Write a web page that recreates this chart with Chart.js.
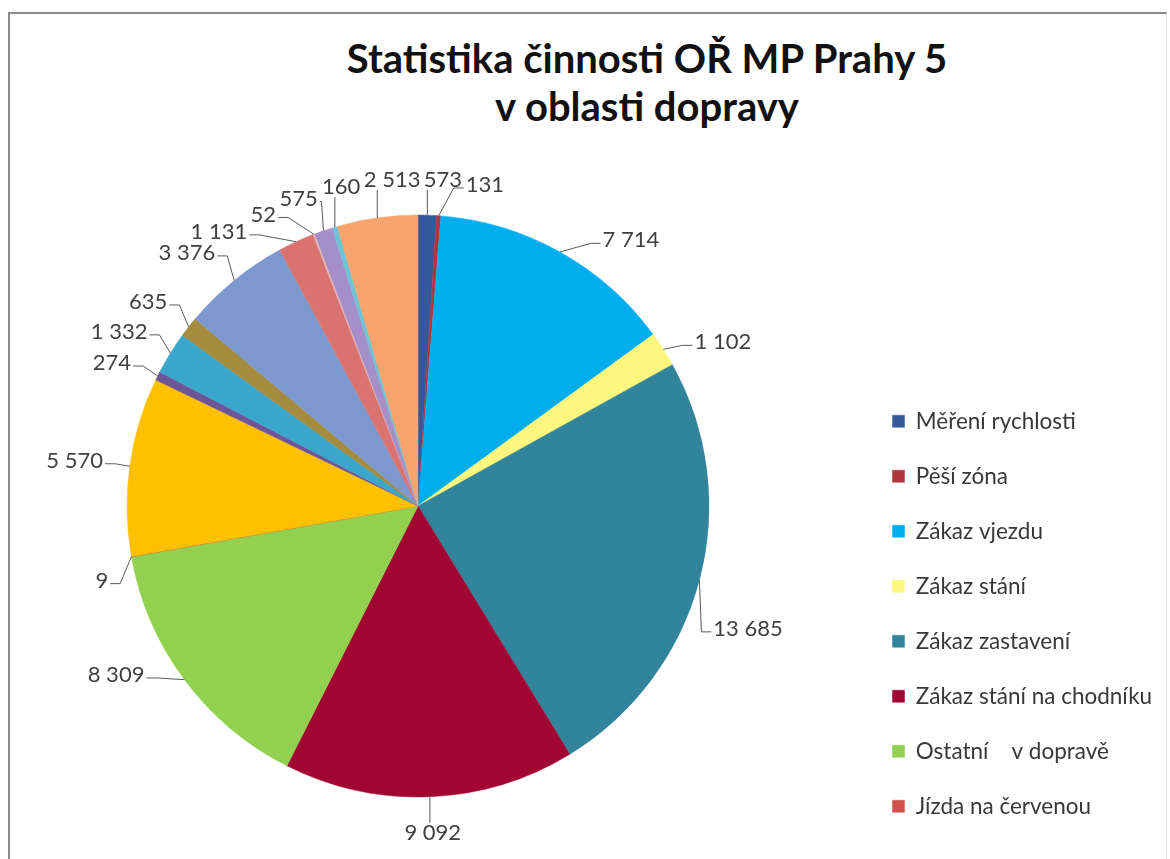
<!DOCTYPE html>
<html>
<head>
<meta charset="utf-8">
<script src="https://cdn.jsdelivr.net/npm/chart.js@4.4.1/dist/chart.umd.min.js"></script>
<style>
  html, body { margin: 0; padding: 0; width: 1170px; height: 859px; overflow: hidden; background: #ffffff; }
  #frame { position: absolute; left: 8px; top: 12px; width: 1159px; height: 900px; box-sizing: border-box;
           border-left: 2px solid #8c8c8c; border-top: 2px solid #8c8c8c; border-right: 1px solid #e2e2e2; }
  #title { position: absolute; left: 250px; width: 794px; top: 34px; text-align: center;
           font-family: Lato, "Open Sans", sans-serif; font-weight: 700; font-size: 40px; line-height: 48px; color: #111; }
  #chart { position: absolute; left: -24px; top: 0; }
</style>
</head>
<body>
<div id="frame"></div>
<div id="title">Statistika činnosti OŘ MP Prahy 5<br>v oblasti dopravy</div>
<canvas id="chart" width="1194" height="859"></canvas>
<script>
// ---- data ----
const categories = [
  "Měření rychlosti", "Pěší zóna", "Zákaz vjezdu", "Zákaz stání", "Zákaz zastavení",
  "Zákaz stání na chodníku", "Ostatní    v dopravě", "Jízda na červenou",
  "Položka 9", "Položka 10", "Položka 11", "Položka 12", "Položka 13",
  "Položka 14", "Položka 15", "Položka 16", "Položka 17", "Položka 18"
];
const values = [573, 131, 7714, 1102, 13685, 9092, 8309, 9, 5570, 274, 1332, 635, 3376, 1131, 52, 575, 160, 2513];
const sliceColors = [
  "#34589A", "#B0353D", "#00AEEF", "#FDF77E", "#31849B", "#A10632", "#92D050", "#D0504D",
  "#FFC000", "#6E5597", "#3AA6CC", "#A58B3D", "#7D98CE", "#DA736F", "#E6B9B8", "#A58FC8", "#6CC4D6", "#F8A46C"
];
const legendVisibleCount = 8;   // the reference legend shows only its first eight entries
// label placement style: angular nudge (degrees, clockwise) applied to a label before overlap resolution
const labelAngleNudge = [-1, 6, 7, 3, 7, 0, 6, -3, 0, -1, 0, 0, 0, 0, 0, 0, 0, -5];

const formatValue = v => String(v).replace(/\B(?=(\d{3})+(?!\d))/g, " ");

// ---- outside labels with leader lines, positioned from the arc elements ----
const outsideLabels = {
  id: "outsideLabels",
  afterDatasetsDraw(chart, args, opts) {
    const ctx = chart.ctx;
    const meta = chart.getDatasetMeta(0);
    const data = chart.data.datasets[0].data;
    ctx.save();
    ctx.font = opts.font;
    const items = meta.data.map((arc, i) => {
      const p = arc.getProps(["x", "y", "startAngle", "endAngle", "outerRadius"], true);
      const mid = (p.startAngle + p.endAngle) / 2;
      const text = formatValue(data[i]);
      const nudge = ((opts.nudge && opts.nudge[i]) || 0) * Math.PI / 180;
      return { i, text, w: ctx.measureText(text).width, h: opts.textHeight,
               cx: p.x, cy: p.y, r: p.outerRadius, mid, ang: mid + nudge };
    });
    const f = t => Math.sign(t) * Math.min(1, Math.abs(t) * opts.cornerBlend);
    const place = it => {
      const c = Math.cos(it.ang), s = Math.sin(it.ang);
      const d = it.r + opts.gap;
      const x = it.cx + d * c + (it.w / 2) * f(c);
      const y = it.cy + d * s + (it.h / 2) * f(s);
      it.box = { x, y, x1: x - it.w / 2, x2: x + it.w / 2, y1: y - it.h / 2, y2: y + it.h / 2 };
    };
    const norm = a => { let t = a % (2 * Math.PI); if (t < 0) t += 2 * Math.PI; return t; };
    items.sort((a, b) => norm(a.mid) - norm(b.mid));
    items.forEach(place);
    const overlap = (a, b, m) => a.x1 < b.x2 + m && b.x1 < a.x2 + m && a.y1 < b.y2 + m && b.y1 < a.y2 + m;
    for (let k = 0; k < 3000; k++) {
      let moved = false;
      for (let j = 0; j < items.length - 1; j++) {
        const a = items[j], b = items[j + 1];
        if (overlap(a.box, b.box, opts.margin)) {
          a.ang -= opts.step; b.ang += opts.step; place(a); place(b); moved = true;
        }
      }
      if (!moved) break;
    }
    ctx.strokeStyle = opts.lineColor;
    ctx.lineWidth = 1;
    ctx.fillStyle = opts.color;
    ctx.textAlign = "center";
    ctx.textBaseline = "middle";
    items.forEach(it => {
      const ax = it.cx + it.r * Math.cos(it.mid);
      const ay = it.cy + it.r * Math.sin(it.mid);
      const b = it.box;
      const ly = b.y + 3;
      ctx.beginPath();
      ctx.moveTo(ax, ay);
      if (ax > b.x1 + 3 && ax < b.x2 - 3) {
        ctx.lineTo(ax, ay > b.y2 ? b.y2 + 1 : b.y1 - 1);
      } else if (ax >= b.x2 - 3) {
        const ex = b.x2 + 2 + Math.min(opts.elbow, Math.max(0, ax - b.x2 - 4));
        ctx.lineTo(ex, ly); ctx.lineTo(b.x2 + 2, ly);
      } else {
        const ex = b.x1 - 2 - Math.min(opts.elbow, Math.max(0, b.x1 - ax - 4));
        ctx.lineTo(ex, ly); ctx.lineTo(b.x1 - 2, ly);
      }
      ctx.stroke();
      ctx.fillText(it.text, b.x, b.y);
    });
    ctx.restore();
  }
};

const LEGEND_LEFT = 884;   // legend's left edge inside the canvas, so the pie centre sits where the reference has it

function build() {
  const chart = new Chart(document.getElementById("chart"), {
    type: "pie",
    data: {
      labels: categories,
      datasets: [{
        data: values,
        backgroundColor: sliceColors,
        borderColor: sliceColors,
        borderWidth: 0.5,
        radius: 291
      }]
    },
    options: {
      responsive: false,
      devicePixelRatio: 1,
      animation: false,
      events: [],
      layout: { padding: { left: 0, top: 162, right: 0, bottom: 9 } },
      plugins: {
        title: { display: false },
        tooltip: { enabled: false },
        legend: {
          position: "right",
          align: "end",
          labels: {
            boxWidth: 12,
            boxHeight: 12,
            padding: 32.5,
            color: "#383838",
            font: { family: "Lato", size: 22.5 },
            filter: item => item.index < legendVisibleCount
          }
        },
        outsideLabels: {
          font: "22px Lato",
          textHeight: 18,
          gap: 27,
          cornerBlend: 1.5,
          margin: 3,
          step: 0.003,
          elbow: 10,
          nudge: labelAngleNudge,
          color: "#404040",
          lineColor: "#5a5a5a"
        }
      }
    },
    plugins: [outsideLabels]
  });
  // put the legend's left edge at LEGEND_LEFT using its natural width
  const w = chart.legend.width;
  chart.options.layout.padding.right = Math.max(0, chart.width - LEGEND_LEFT - w);
  chart.update();
}
if (document.fonts && document.fonts.load) {
  Promise.all([document.fonts.load("22px Lato"), document.fonts.load("bold 40px Lato")]).then(build, build);
} else { build(); }
</script>
</body>
</html>
